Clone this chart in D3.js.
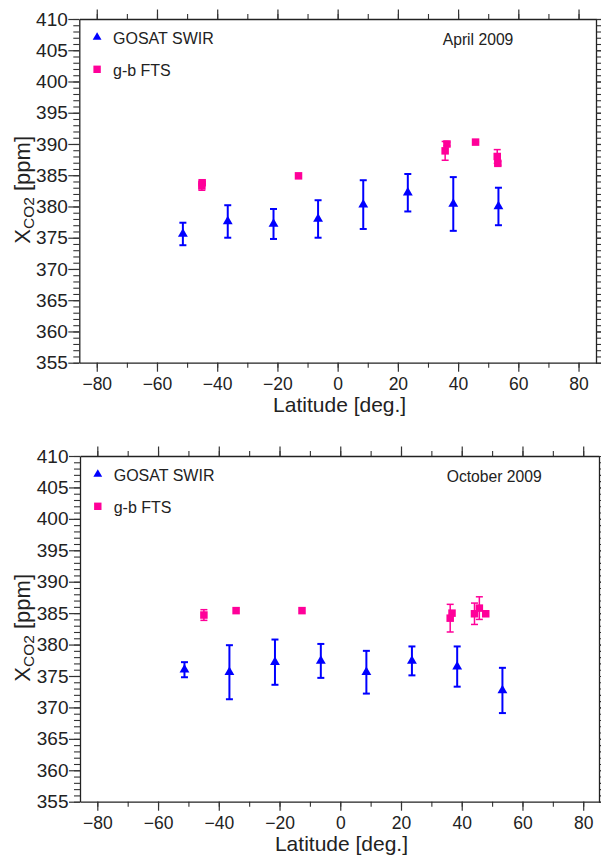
<!DOCTYPE html>
<html><head><meta charset="utf-8">
<script src="https://cdn.jsdelivr.net/npm/d3@7"></script>
<style>
html,body{margin:0;padding:0;background:#fff;}
svg{display:block;font-family:"Liberation Sans",Arial,sans-serif;}
</style></head><body>
<svg id="chart" width="601" height="856"></svg>
<script>
// Axis ticks
const latTicks = [-80, -60, -40, -20, 0, 20, 40, 60, 80];
const latMinorTicks = [-80, -70, -60, -50, -40, -30, -20, -10, 0, 10, 20, 30, 40, 50, 60, 70, 80];
const xco2Ticks = [355, 360, 365, 370, 375, 380, 385, 390, 395, 400, 405, 410];
const xco2MinorTicks = d3.range(355, 411, 1);

// April 2009: GOSAT SWIR zonal means (ppm) with 1-sigma bars
const aprGosatLat = [-51.4, -36.5, -21.3, -6.5, 8.5, 23.3, 38.4, 53.4];
const aprGosatVal = [375.6, 377.6, 377.2, 378.0, 380.3, 382.2, 380.4, 380.0];
const aprGosatErr = [1.8, 2.6, 2.4, 3.0, 3.9, 3.0, 4.3, 3.0];
// April 2009: ground-based FTS sites
const aprFtsLat = [-45.1, -45.0, -13.0, 35.7, 36.3, 45.8, 53.0, 53.2];
const aprFtsVal = [383.3, 383.8, 384.9, 388.9, 390.0, 390.3, 388.0, 386.9];
const aprFtsErr = [0.7, 0.2, 0.2, 1.5, 0.3, 0.1, 1.1, 0.3];

// October 2009: GOSAT SWIR
const octGosatLat = [-51.3, -36.5, -21.5, -6.4, 8.6, 23.6, 38.5, 53.4];
const octGosatVal = [376.0, 375.6, 377.2, 377.4, 375.6, 377.4, 376.5, 372.7];
const octGosatErr = [1.2, 4.3, 3.6, 2.7, 3.4, 2.3, 3.2, 3.6];
// October 2009: ground-based FTS
const octFtsLat = [-44.9, -34.3, -12.6, 36.2, 36.8, 44.2, 45.8, 47.9];
const octFtsVal = [384.7, 385.4, 385.4, 384.2, 385.0, 384.9, 385.8, 384.9];
const octFtsErr = [0.85, 0, 0, 2.2, 0, 1.7, 1.8, 0];

const BLUE = "#0000ff";
const PINK = "#ff0099";
const INK = "#222";

const toPoints = (lat, val, err) => lat.map((d, i) => ({lat: d, val: val[i], err: err[i]}));

const panels = [
  {title: "April 2009",
   gosat: toPoints(aprGosatLat, aprGosatVal, aprGosatErr),
   fts: toPoints(aprFtsLat, aprFtsVal, aprFtsErr),
   left: 79.3, right: 596, top: 19, bottom: 362.7,
   latDomain: [-85.8, 85.8], titleX: 442.7, xLabelDy: 49},
  {title: "October 2009",
   gosat: toPoints(octGosatLat, octGosatVal, octGosatErr),
   fts: toPoints(octFtsLat, octFtsVal, octFtsErr),
   left: 80, right: 599, top: 456, bottom: 801.7,
   latDomain: [-85.7, 85.2], titleX: 446.7, xLabelDy: 49}
];

const svg = d3.select("#chart");

function styleAxis(sel, fontSize) {
  sel.attr("font-family", null).attr("font-size", null);
  sel.select(".domain").attr("stroke", INK).attr("stroke-width", 1.3);
  sel.selectAll(".tick line").attr("stroke", "#333").attr("stroke-width", 1.2);
  sel.selectAll(".tick text").attr("fill", INK).style("font-size", fontSize + "px");
}
// ticks only: no domain line, no labels
function bareAxis(sel) {
  sel.attr("font-family", null).attr("font-size", null);
  sel.select(".domain").remove();
  sel.selectAll(".tick text").remove();
  sel.selectAll(".tick line").attr("stroke", "#333").attr("stroke-width", 1.1);
}
// frame side with ticks but no labels
function frameAxis(sel) {
  sel.attr("font-family", null).attr("font-size", null);
  sel.select(".domain").attr("stroke", INK).attr("stroke-width", 1.3);
  sel.selectAll(".tick text").remove();
  sel.selectAll(".tick line").attr("stroke", "#333").attr("stroke-width", 1.2);
}

panels.forEach(p => {
  const x = d3.scaleLinear().domain(p.latDomain).range([p.left, p.right]);
  const y = d3.scaleLinear().domain([355, 410]).range([p.bottom, p.top]);
  const g = svg.append("g");

  // minor ticks (all four sides)
  g.append("g").attr("transform", `translate(${p.left},0)`)
    .call(d3.axisLeft(y).tickValues(xco2MinorTicks).tickSize(6)).call(bareAxis);
  g.append("g").attr("transform", `translate(${p.right},0)`)
    .call(d3.axisRight(y).tickValues(xco2MinorTicks).tickSize(6)).call(bareAxis);
  g.append("g").attr("transform", `translate(0,${p.bottom})`)
    .call(d3.axisBottom(x).tickValues(latMinorTicks).tickSize(5)).call(bareAxis);
  g.append("g").attr("transform", `translate(0,${p.top})`)
    .call(d3.axisTop(x).tickValues(latMinorTicks).tickSize(5)).call(bareAxis);

  // major axes
  g.append("g").attr("transform", `translate(${p.left},0)`)
    .call(d3.axisLeft(y).tickValues(xco2Ticks).tickSize(11).tickSizeOuter(0).tickPadding(0.5).tickFormat(d3.format("d")))
    .call(s => styleAxis(s, 19));
  g.append("g").attr("transform", `translate(${p.right},0)`)
    .call(d3.axisRight(y).tickValues(xco2Ticks).tickSize(11).tickSizeOuter(0))
    .call(frameAxis);
  g.append("g").attr("transform", `translate(0,${p.bottom})`)
    .call(d3.axisBottom(x).tickValues(latTicks).tickSize(9).tickSizeOuter(0).tickPadding(6.2).tickFormat(d3.format("d")))
    .call(s => styleAxis(s, 17.5));
  g.append("g").attr("transform", `translate(0,${p.top})`)
    .call(d3.axisTop(x).tickValues(latTicks).tickSize(9.5).tickSizeOuter(0))
    .call(frameAxis);

  // axis titles
  g.append("text")
    .attr("x", (p.left + p.right) / 2 + 2).attr("y", p.bottom + p.xLabelDy)
    .attr("text-anchor", "middle").attr("fill", INK).style("font-size", "21px")
    .text("Latitude [deg.]");

  const yl = g.append("text")
    .attr("transform", `translate(29.5,${(p.top + p.bottom) / 2 - 1}) rotate(-90)`)
    .attr("text-anchor", "middle").attr("fill", INK).style("font-size", "22px");
  yl.append("tspan").text("X");
  yl.append("tspan").attr("dy", 4).style("font-size", "15.5px").text("CO2");
  yl.append("tspan").attr("dy", -4).text(" [ppm]");

  // title
  g.append("text").attr("x", p.titleX).attr("y", p.top + 25.5)
    .attr("fill", INK).style("font-size", "15.7px").text(p.title);

  // error bars
  const drawErr = (data, color, width) => {
    const eb = g.append("g").attr("stroke", color).attr("stroke-width", width).attr("fill", "none");
    data.filter(d => d.err > 0).forEach(d => {
      const cx = x(d.lat), y0 = y(d.val - d.err), y1 = y(d.val + d.err);
      eb.append("line").attr("x1", cx).attr("x2", cx).attr("y1", y0).attr("y2", y1);
      eb.append("line").attr("x1", cx - 3.5).attr("x2", cx + 3.5).attr("y1", y0).attr("y2", y0);
      eb.append("line").attr("x1", cx - 3.5).attr("x2", cx + 3.5).attr("y1", y1).attr("y2", y1);
    });
  };
  drawErr(p.fts, PINK, 1.5);
  drawErr(p.gosat, BLUE, 2);

  const tri = d3.symbol().type(d3.symbolTriangle).size(42);
  const sq = 7.5;

  g.append("g").selectAll("rect").data(p.fts).join("rect")
    .attr("x", d => x(d.lat) - sq / 2).attr("y", d => y(d.val) - sq / 2)
    .attr("width", sq).attr("height", sq).attr("fill", PINK);

  g.append("g").selectAll("path").data(p.gosat).join("path")
    .attr("transform", d => `translate(${x(d.lat)},${y(d.val)})`)
    .attr("d", tri).attr("fill", BLUE);

  // legend
  const lx = p.left + 17.8;
  g.append("path").attr("transform", `translate(${lx},${p.top + 18.3})`)
    .attr("d", d3.symbol().type(d3.symbolTriangle).size(34)).attr("fill", BLUE);
  g.append("text").attr("x", p.left + 33.7).attr("y", p.top + 25)
    .attr("fill", INK).style("font-size", "16px").text("GOSAT SWIR");
  g.append("rect").attr("x", lx - 3.7).attr("y", p.top + 50.3 - 3.7)
    .attr("width", 7.4).attr("height", 7.4).attr("fill", PINK);
  g.append("text").attr("x", p.left + 33.7).attr("y", p.top + 57)
    .attr("fill", INK).style("font-size", "16px").text("g-b FTS");
});
</script>
</body></html>
